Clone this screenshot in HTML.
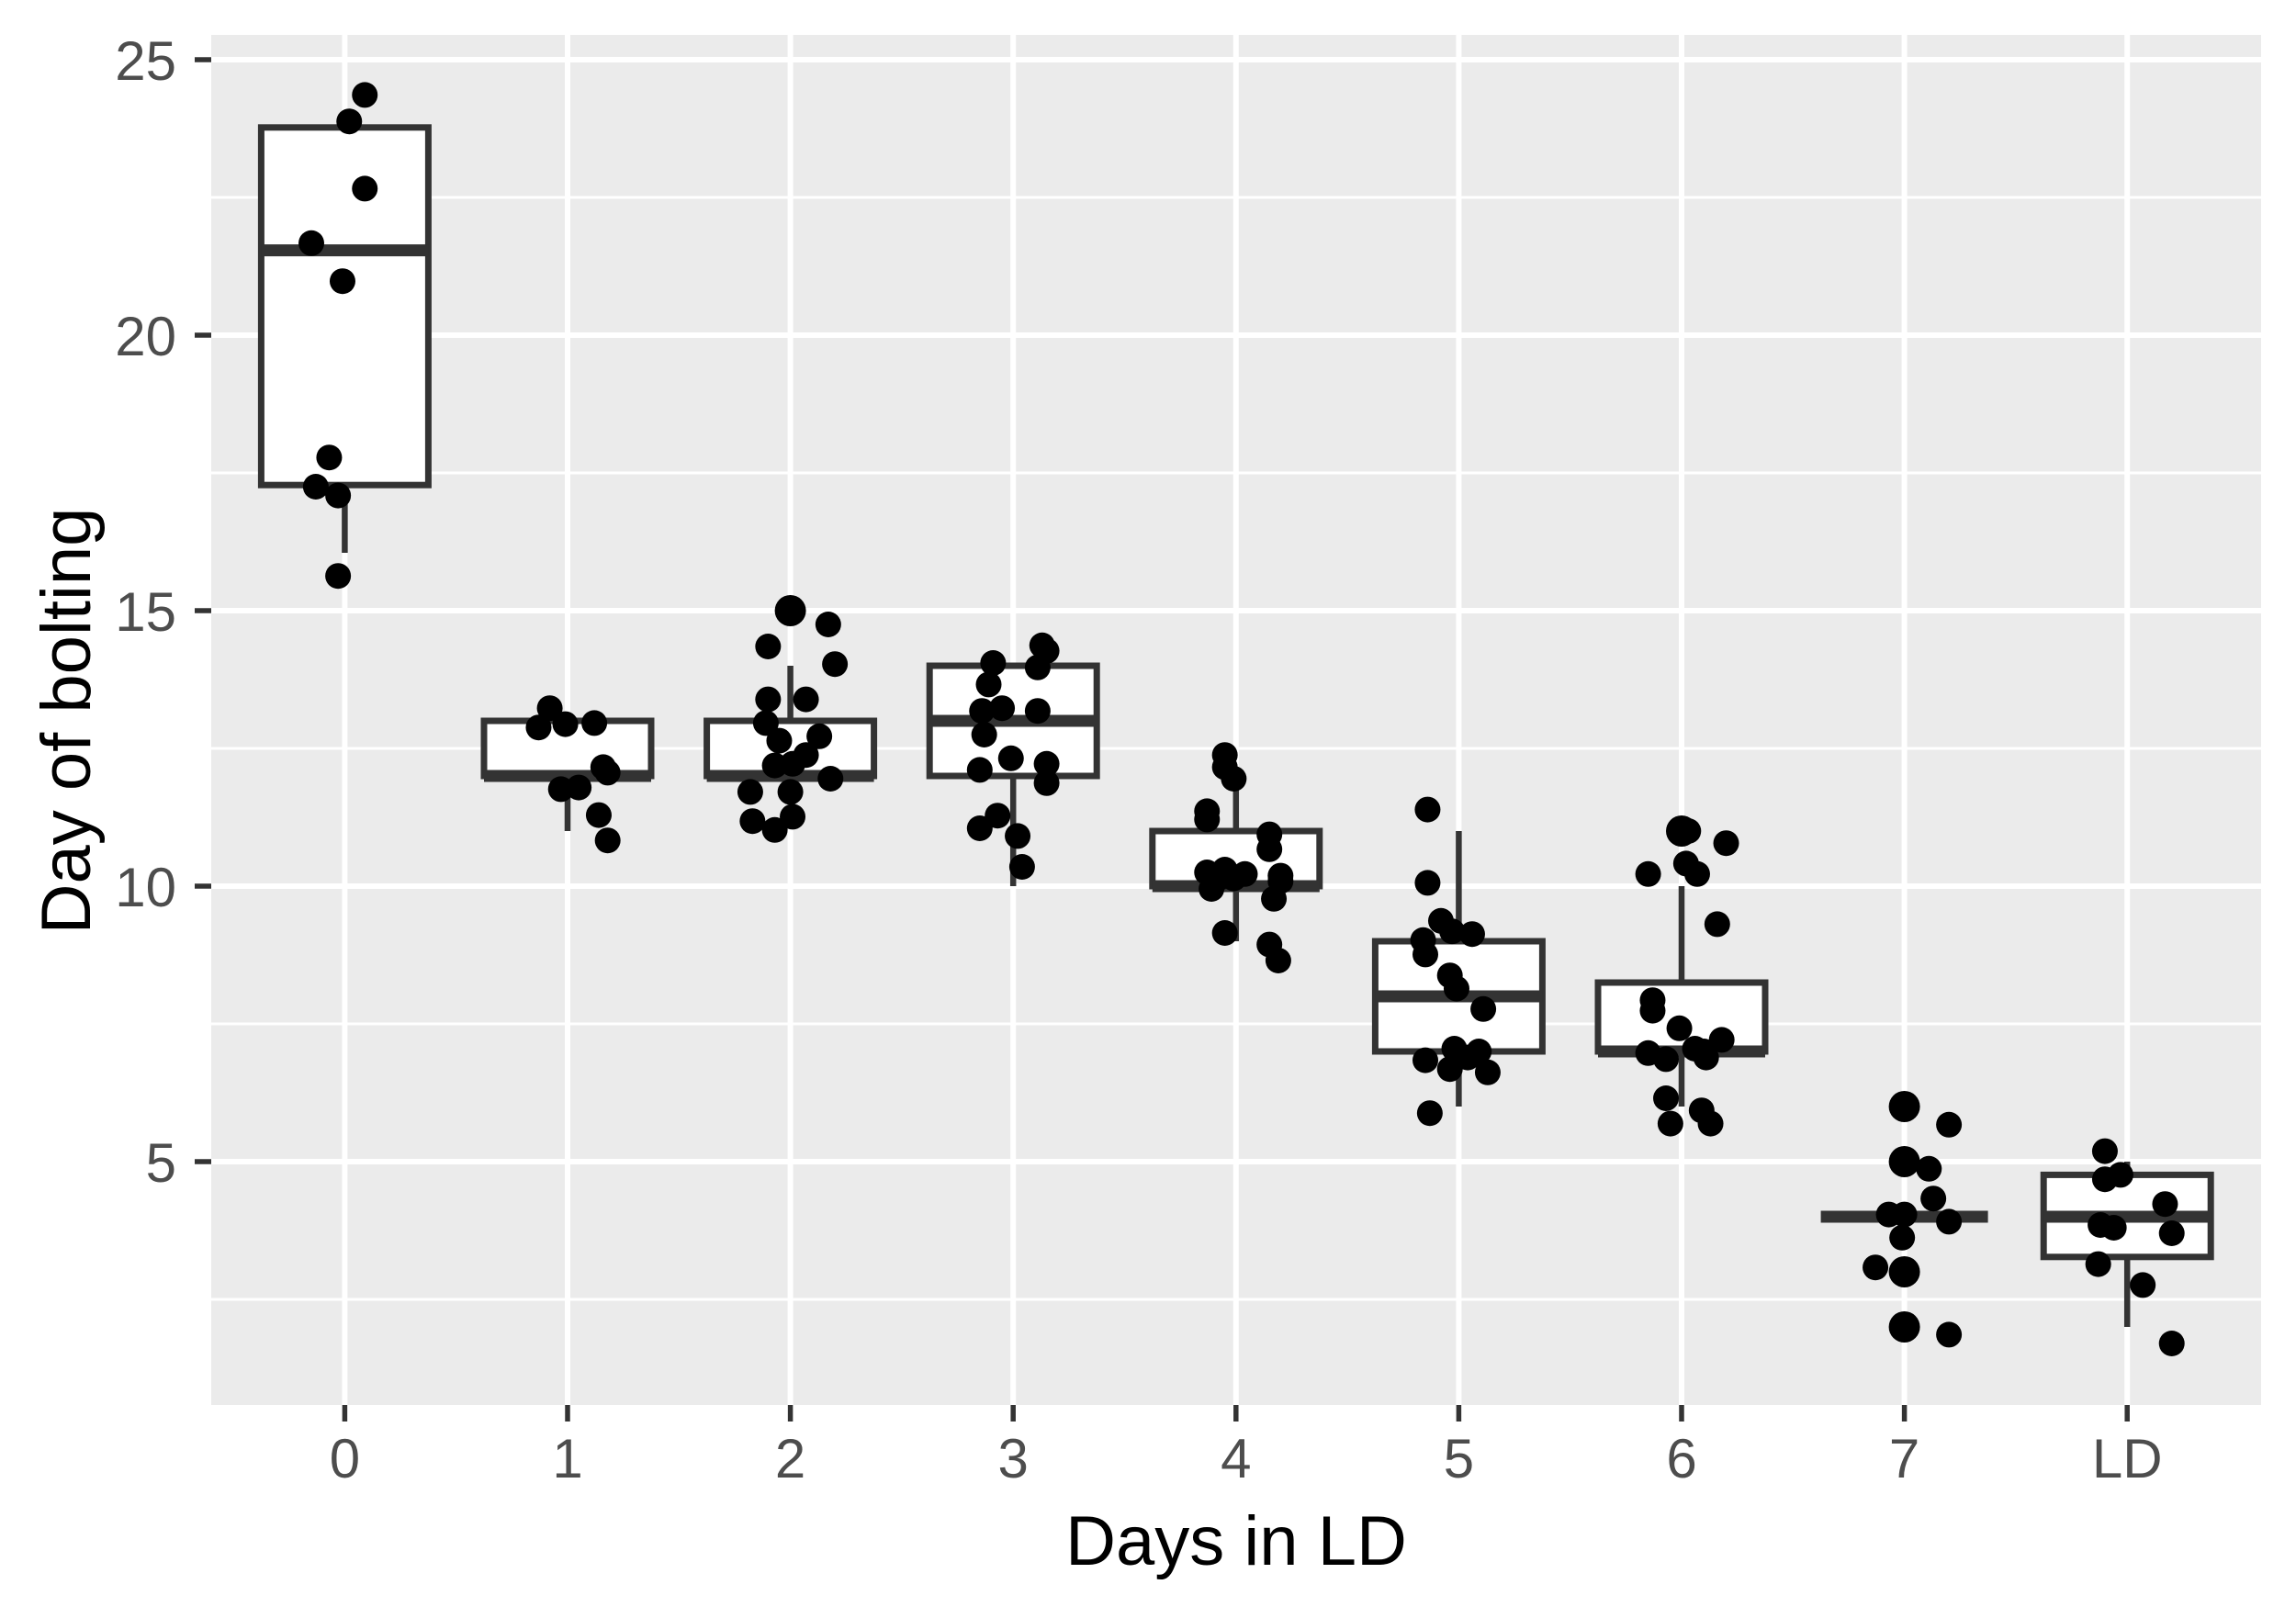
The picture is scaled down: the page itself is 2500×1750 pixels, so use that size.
<!DOCTYPE html>
<html><head><meta charset="utf-8"><style>
html,body{margin:0;padding:0;background:#fff;}
svg{display:block;font-family:"Liberation Sans",Arial,sans-serif;}
</style></head><body>
<svg id="chart" width="2500" height="1750" viewBox="0 0 2500 1750">
<rect x="0" y="0" width="2500" height="1750" fill="#fff"/>
<rect id="panel" x="230" y="38" width="2232" height="1492" fill="#ebebeb"/>
<g id="grid"></g>
<g id="boxes"></g>
<g id="points"></g>
<g id="axes"></g>
<text x="1346" y="1704" font-size="76" text-anchor="middle" fill="#000">Days in LD</text>
<text transform="translate(98,785) rotate(-90)" font-size="76" text-anchor="middle" fill="#000">Day of bolting</text>
</svg>
<script>
const categories = ["0","1","2","3","4","5","6","7","LD"];
const yTicks = [5,10,15,20,25];
const yMinor = [2.5,7.5,12.5,17.5,22.5];
const q1 = [17.28,12,12,12,10,7,7,4,3.27];
const medians = [21.54,12,12,13,10,8,7,4,4];
const q3 = [23.77,13,13,14,11,9,8.25,4,4.76];
const whiskerLow = [16.05,11,12,10,9,6,6,4,2];
const whiskerHigh = [23.77,13,14,14,12,11,10,4,5];
const outlierCat = [2,6,7,7,7,7];
const outlierVal = [15,11,6,5,3,2];
const ptCat = [0,0,0,0,0,0,0,0,0,
 1,1,1,1,1,1,1,1,1,1,
 2,2,2,2,2,2,2,2,2,2,2,2,2,2,2,2,2,
 3,3,3,3,3,3,3,3,3,3,3,3,3,3,3,3,3,
 4,4,4,4,4,4,4,4,4,4,4,4,4,4,4,4,4,4,4,
 5,5,5,5,5,5,5,5,5,5,5,5,5,5,5,5,5,
 6,6,6,6,6,6,6,6,6,6,6,6,6,6,6,6,6,6,6,
 7,7,7,7,7,7,7,7,7,
 8,8,8,8,8,8,8,8,8,8];
const ptJitter = [.09,.02,.09,-.15,-.01,-.07,-.13,-.03,-.03,
 -.08,-.13,-.01,.12,.16,.18,-.03,.05,.14,.18,
 .17,-.1,.2,-.1,.07,-.11,-.05,.13,.07,-.07,.01,.18,-.18,0,-.17,.01,-.07,
 .13,-.09,.15,.11,-.11,-.05,.11,-.14,-.13,-.01,.15,-.15,.15,-.07,.02,.04,-.15,
 -.05,-.05,-.01,-.13,-.13,.15,.15,-.13,-.05,.04,-.08,-.01,-.11,.2,.2,.17,-.05,.15,.19,
 -.14,-.14,-.08,-.16,-.15,-.03,.06,-.04,-.01,.11,-.15,-.02,.09,-.04,.04,.13,-.13,
 .03,.2,-.15,.02,.07,.16,-.13,-.13,-.01,.18,.06,.1,-.15,-.07,.11,-.07,.09,-.05,.13,
 .2,.11,-.07,0,.13,.2,-.01,-.13,.2,
 -.1,-.03,-.1,.17,-.12,-.06,.2,-.13,.07,.2];
const ptVal = [24.36,23.88,22.66,21.67,20.98,17.78,17.25,17.09,15.63,
 13.23,12.88,12.94,12.96,12.16,12.06,11.76,11.79,11.29,10.83,
 14.75,14.35,14.03,13.39,13.39,12.96,12.64,12.72,12.38,12.19,12.22,11.95,11.71,11.71,11.18,11.26,11.02,
 14.37,14.05,14.27,13.97,13.66,13.23,13.18,13.18,12.75,12.32,12.22,12.11,11.87,11.28,10.91,10.35,11.05,
 12.38,12.16,11.95,11.36,11.21,10.94,10.67,10.25,10.30,10.22,10.14,10.14,9.95,10.19,10.09,9.77,9.15,8.94,8.65,
 11.39,10.06,9.37,9.02,8.76,9.18,9.13,8.38,8.14,7.77,6.84,7.05,7.00,6.68,6.89,6.62,5.88,
 11.0,10.78,10.22,10.41,10.22,9.31,7.93,7.74,7.42,7.21,7.05,7.00,6.97,6.86,6.89,6.15,5.93,5.69,5.69,
 5.67,4.87,4.04,4.04,4.33,3.91,3.62,3.08,1.86,
 5.19,4.76,4.68,4.23,3.85,3.80,3.70,3.14,2.76,1.70];

const NS='http://www.w3.org/2000/svg';
const PL=230, PR=2462, PT=38, PB=1530;
function xScale(i){return 375.4 + 242.6*i;}
function yScale(v){return 1565 - 60*v;}
function mk(tag, attrs, parent){const e=document.createElementNS(NS,tag);for(const k in attrs)e.setAttribute(k,attrs[k]);parent.appendChild(e);return e;}
const grid=document.getElementById('grid'), boxes=document.getElementById('boxes'), pts=document.getElementById('points'), axes=document.getElementById('axes');
yMinor.forEach(v=>{const l=mk('line',{x1:PL,x2:PR,y1:yScale(v),y2:yScale(v),stroke:'#fff','stroke-width':3},grid);

});
yTicks.forEach(v=>{const l=mk('line',{x1:PL,x2:PR,y1:yScale(v),y2:yScale(v),stroke:'#fff','stroke-width':6},grid);


const t=mk('line',{x1:PL-18,x2:PL,y1:yScale(v),y2:yScale(v),stroke:'#333','stroke-width':5.5},axes);


const tx=mk('text',{x:PL-38,y:yScale(v)+22,'font-size':60,'text-anchor':'end',fill:'#4d4d4d'},axes);tx.textContent=v;

});
categories.forEach((c,i)=>{const x=xScale(i);
const l=mk('line',{x1:x,x2:x,y1:PT,y2:PB,stroke:'#fff','stroke-width':6},grid);


const t=mk('line',{x1:x,x2:x,y1:PB,y2:PB+18,stroke:'#333','stroke-width':5.5},axes);


const tx=mk('text',{x:x,y:1609,'font-size':60,'text-anchor':'middle',fill:'#4d4d4d'},axes);tx.textContent=c;


const g=mk('g',{},boxes);


mk('line',{x1:x,x2:x,y1:yScale(whiskerHigh[i]),y2:yScale(q3[i]),stroke:'#333','stroke-width':6.5},g);
mk('line',{x1:x,x2:x,y1:yScale(q1[i]),y2:yScale(whiskerLow[i]),stroke:'#333','stroke-width':6.5},g);
mk('rect',{x:x-91,y:yScale(q3[i]),width:182,height:Math.max(0,yScale(q1[i])-yScale(q3[i])),fill:'#fff',stroke:'#333','stroke-width':7},g);
mk('line',{x1:x-91,x2:x+91,y1:yScale(medians[i]),y2:yScale(medians[i]),stroke:'#333','stroke-width':13},g);
});
outlierCat.forEach((c,k)=>{const o=mk('circle',{cx:xScale(c),cy:yScale(outlierVal[k]),r:17,fill:'#000'},pts);

});
ptCat.forEach((c,k)=>{const p=mk('circle',{cx:xScale(c+ptJitter[k]),cy:yScale(ptVal[k]),r:14,fill:'#000'},pts);

});
</script>
</body></html>
